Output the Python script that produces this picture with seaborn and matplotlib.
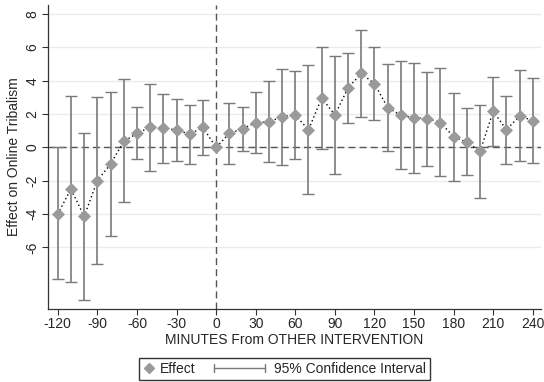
import numpy as np
import pandas as pd
import matplotlib
matplotlib.use("Agg")
import matplotlib.pyplot as plt
import seaborn as sns
from matplotlib.lines import Line2D
from matplotlib.legend_handler import HandlerBase

minutes = [-120, -110, -100, -90, -80, -70, -60, -50, -40, -30, -20, -10, 0,
           10, 20, 30, 40, 50, 60, 70, 80, 90, 100, 110, 120,
           130, 140, 150, 160, 170, 180, 190, 200, 210, 220, 230, 240]
effect = [-4.0, -2.49, -4.14, -1.99, -1.0, 0.36, 0.84, 1.22, 1.18, 1.04, 0.80, 1.20, 0.0,
          0.84, 1.12, 1.49, 1.53, 1.85, 1.93, 1.06, 2.97, 1.95, 3.57, 4.44, 3.82,
          2.39, 1.93, 1.77, 1.73, 1.49, 0.64, 0.32, -0.24, 2.17, 1.06, 1.89, 1.61]
ci_hi = [0.0, 3.11, 0.88, 3.01, 3.33, 4.08, 2.43, 3.80, 3.23, 2.91, 2.57, 2.85, np.nan,
         2.69, 2.45, 3.35, 3.96, 4.70, 4.56, 4.92, 6.04, 5.50, 5.68, 7.05, 6.02,
         5.0, 5.2, 5.04, 4.54, 4.76, 3.25, 2.37, 2.57, 4.20, 3.09, 4.64, 4.18]
ci_lo = [-7.87, -8.07, -9.16, -6.99, -5.34, -3.29, -0.72, -1.39, -0.92, -0.82, -1.0, -0.48, np.nan,
         -1.02, -0.22, -0.36, -0.86, -1.04, -0.70, -2.77, -0.10, -1.61, 1.49, 1.85, 1.63,
         -0.2, -1.29, -1.55, -1.10, -1.73, -1.99, -1.65, -3.03, 0.10, -0.98, -0.82, -0.94]
xticks = [-120, -90, -60, -30, 0, 30, 60, 90, 120, 150, 180, 210, 240]
yticks = [-6, -4, -2, 0, 2, 4, 6, 8]

df = pd.DataFrame({"min": minutes, "effect": effect, "lo": ci_lo, "hi": ci_hi})

sns.set_style("white")
plt.rcParams['font.family'] = ['Liberation Sans', 'DejaVu Sans']
FS = 10
plt.rcParams['font.size'] = FS

MARK = "#9a9a9a"
CI = "#7a7a7a"

fig = plt.figure(figsize=(5.44, 3.82), dpi=100)
ax = fig.add_axes([0.088, 0.191, 0.906, 0.796])

for y in yticks:
    ax.axhline(y, color="#ebebeb", lw=1.0, zorder=0)
ax.axhline(0, color="#555555", lw=1.0, ls=(0, (5, 3)), zorder=1)
ax.axvline(0, color="#555555", lw=1.0, ls=(0, (5, 3)), zorder=1)

ci = df.dropna()
ax.errorbar(ci["min"], ci["effect"],
            yerr=[ci["effect"] - ci["lo"], ci["hi"] - ci["effect"]],
            fmt="none", ecolor=CI, elinewidth=1.2, capsize=4, capthick=1.0, zorder=2)

sns.lineplot(data=df, x="min", y="effect", ax=ax, color="black", lw=1.0,
             linestyle=(0, (1, 2)), zorder=3, legend=False)
sns.scatterplot(data=df, x="min", y="effect", ax=ax, marker="D", s=44,
                color=MARK, edgecolor=MARK, linewidth=0, zorder=4, legend=False)

ax.set_xlim(-127.5, 246)
ax.set_ylim(-9.7, 8.55)
ax.set_xticks(xticks)
ax.set_xticklabels([str(t) for t in xticks], fontsize=FS)
ax.set_yticks(yticks)
ax.set_yticklabels([str(t) for t in yticks], fontsize=FS, rotation=90, va="center")
ax.tick_params(axis="both", direction="out", length=4, width=0.8, color="#333333", pad=2,
               bottom=True, left=True)
for s in ["top", "right"]:
    ax.spines[s].set_visible(False)
for s in ["left", "bottom"]:
    ax.spines[s].set_color("#333333")
    ax.spines[s].set_linewidth(0.9)
ax.set_xlabel("MINUTES From OTHER INTERVENTION", fontsize=FS, labelpad=1)
ax.set_ylabel("Effect on Online Tribalism", fontsize=FS, labelpad=3)


class DiamondHandler(HandlerBase):
    def create_artists(self, legend, orig_handle, xdescent, ydescent, width, height, fontsize, trans):
        l = Line2D([-xdescent + 0.5 * width], [height / 2 - ydescent], marker="D",
                   color=MARK, ms=5, linestyle="none", transform=trans)
        return [l]


class CIHandler(HandlerBase):
    def create_artists(self, legend, orig_handle, xdescent, ydescent, width, height, fontsize, trans):
        y = height / 2 - ydescent
        x0 = -xdescent - 3.1 * fontsize
        x1 = -xdescent + width - 0.25 * fontsize
        l = Line2D([x0, x1], [y, y], color=CI, lw=1.0, transform=trans)
        c0 = Line2D([x0, x0], [y - 3, y + 3], color=CI, lw=1.0, transform=trans)
        c1 = Line2D([x1, x1], [y - 3, y + 3], color=CI, lw=1.0, transform=trans)
        return [l, c0, c1]


h1 = Line2D([], [], marker="D", color=MARK)
h2 = Line2D([], [], color=CI)
leg = fig.legend([h1, h2], ["Effect", "95% Confidence Interval"], loc="center",
                 bbox_to_anchor=(0.523, 0.034), ncol=2, fontsize=FS,
                 handlelength=0.8, handletextpad=0.4, columnspacing=4.4,
                 borderpad=0.3, frameon=True, fancybox=False,
                 handler_map={h1: DiamondHandler(), h2: CIHandler()})
leg.get_frame().set_edgecolor("black")
leg.get_frame().set_linewidth(1.0)

fig.savefig("out.png", dpi=100)
